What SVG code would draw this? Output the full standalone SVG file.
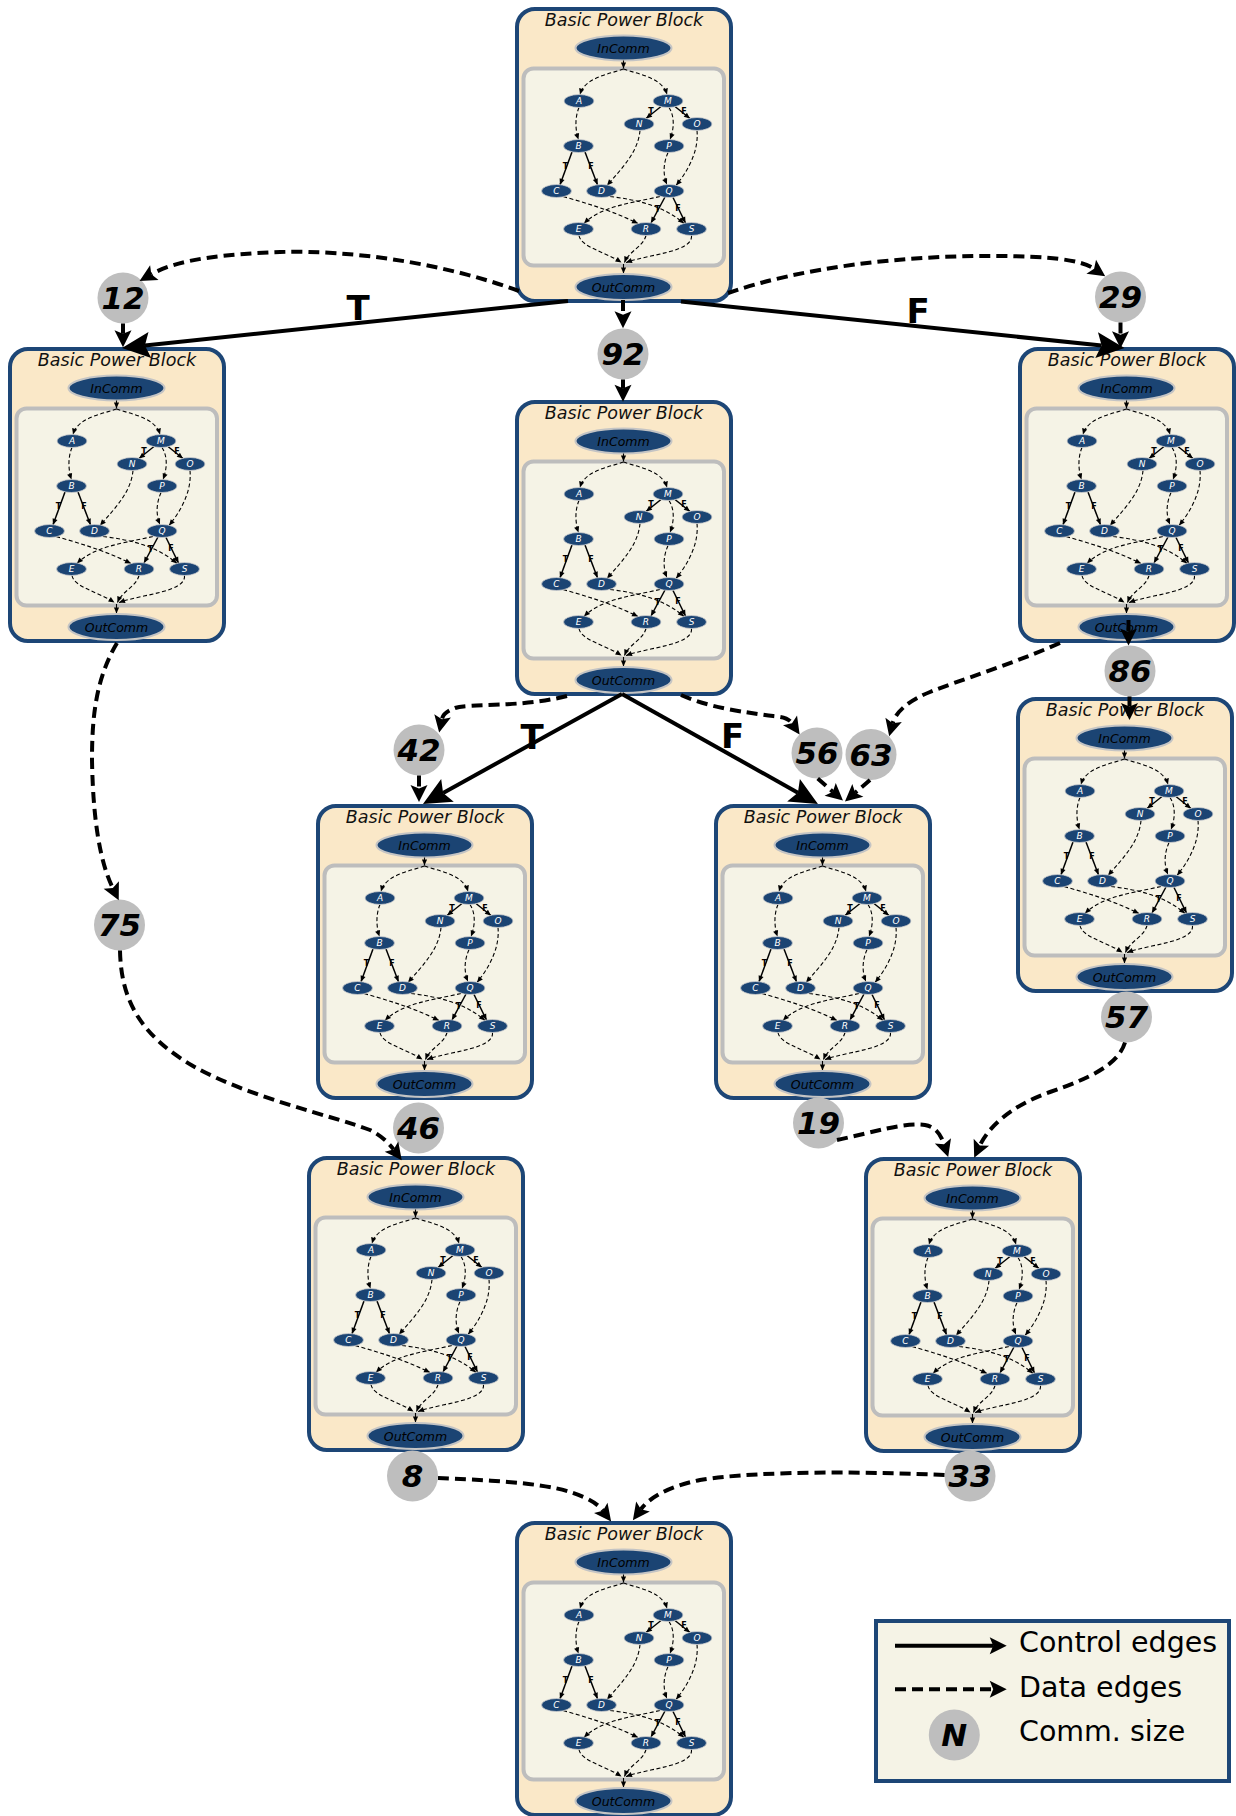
<svg xmlns="http://www.w3.org/2000/svg" xmlns:xlink="http://www.w3.org/1999/xlink" width="1236" height="1816" viewBox="0 0 1236 1816">
<style>
.blk{fill:#fae8c8;stroke:#1d4676;stroke-width:4}
.ttl{font-family:"DejaVu Sans",sans-serif;font-style:italic;font-size:17.5px;text-anchor:middle;fill:#111}
.io{fill:#1b4473;stroke:#c4c4c4;stroke-width:2}
.iot{font-family:"DejaVu Sans",sans-serif;font-style:italic;font-size:12.5px;text-anchor:middle;fill:#000}
.inner{fill:#f5f3e6;stroke:#bdbdbd;stroke-width:4}
.n{fill:#1b4473;stroke:#d0d0d0;stroke-width:0.8}
.nt{font-family:"DejaVu Sans",sans-serif;font-style:italic;font-size:9px;text-anchor:middle;fill:#fff}
.ie{fill:none;stroke:#000;stroke-width:1.1;stroke-dasharray:4 2.5;marker-end:url(#sa)}
.is{fill:none;stroke:#000;stroke-width:1.5;marker-end:url(#sa)}
.il{font-family:"DejaVu Sans",sans-serif;font-weight:bold;font-size:8px;text-anchor:middle;fill:#000}
.cs{fill:#bebebe}
.cn{font-family:"DejaVu Sans",sans-serif;font-style:italic;font-weight:bold;font-size:31px;text-anchor:middle;fill:#000}
.ctl{fill:none;stroke:#000;stroke-width:4;marker-end:url(#ca)}
.dat{fill:none;stroke:#000;stroke-width:4;stroke-dasharray:11 6;marker-end:url(#da)}
.lgc{fill:none;stroke:#000;stroke-width:4;marker-end:url(#da)}
.tf{font-family:"DejaVu Sans",sans-serif;font-weight:bold;font-size:34px;text-anchor:middle;fill:#000}
.leg{fill:#f5f3e6;stroke:#1d4676;stroke-width:4}
.lt{font-family:"DejaVu Sans",sans-serif;font-size:28.5px;fill:#000}
</style>
<defs>
<marker id="sa" markerUnits="userSpaceOnUse" orient="auto" overflow="visible" markerWidth="10" markerHeight="10"><path d="M-6,-2.6 L0,0 L-6,2.6 z" fill="#000"/></marker>
<marker id="ca" markerUnits="userSpaceOnUse" orient="auto" overflow="visible" markerWidth="40" markerHeight="40"><path d="M-5,-13 L23,0 L-5,13 L0,0 z" fill="#000"/></marker>
<marker id="da" markerUnits="userSpaceOnUse" orient="auto" overflow="visible" markerWidth="30" markerHeight="30"><path d="M-3.5,-8.5 L13.5,0 L-3.5,8.5 L0,0 z" fill="#000"/></marker>
<g id="bpb">
<rect class="blk" x="2" y="2" width="214" height="292" rx="18"/>
<text class="ttl" x="109" y="18.5">Basic Power Block</text>
<ellipse class="io" cx="108.5" cy="41" rx="48" ry="12.5"/>
<text class="iot" x="108.5" y="45.5">InComm</text>
<rect class="inner" x="8.5" y="61.5" width="200.5" height="197" rx="10"/>
<path class="ie" d="M108.5,53.5 L108.5,61.5"/>
<path class="ie" d="M108.5,62 C95,67 70,70 65,87.5"/>
<path class="ie" d="M108.5,62 C122,67 147,70 152,87.5"/>
<path class="ie" d="M64,100.5 C60,110 60,122 63.5,132.5"/>
<path class="is" d="M57,145 L45,177.8"/>
<path class="is" d="M70,145 L82.5,177.8"/>
<path class="is" d="M146,99.5 L131,111.5"/>
<path class="is" d="M160,99.5 L175,111.5"/>
<path class="ie" d="M154,100.5 C160,110 159,122 155,132.5"/>
<path class="ie" d="M125,123.5 C123,145 108,160 92,178.5"/>
<path class="ie" d="M182,123.5 C184,145 172,165 161,178.5"/>
<path class="ie" d="M153,145.5 C148,157 148,168 152,177.5"/>
<path class="ie" d="M48,189.5 C75,197 100,205 123,216.5"/>
<path class="ie" d="M95,189.5 C125,193 150,200 169,216.5"/>
<path class="ie" d="M145,189.5 C115,196 85,200 69,216.5"/>
<path class="is" d="M150,190 L136,216"/>
<path class="is" d="M158,190.5 L170.5,216"/>
<path class="ie" d="M64,228.5 C66,240 90,245 106.5,255.5"/>
<path class="ie" d="M131,228.5 C128,240 114,244 109.5,255.5"/>
<path class="ie" d="M176.5,228.5 C178,245 135,247 111,255.5"/>
<path class="ie" d="M108.5,257 L108.5,266.5"/>
<text class="il" x="50.5" y="162">T</text>
<text class="il" x="76" y="162">F</text>
<text class="il" x="136" y="107">T</text>
<text class="il" x="169" y="107">F</text>
<text class="il" x="142.5" y="204.5">T</text>
<text class="il" x="163" y="204">F</text>
<ellipse class="n" cx="64" cy="94" rx="15" ry="6.5"/><text class="nt" x="64" y="97.2">A</text>
<ellipse class="n" cx="153" cy="94" rx="15" ry="6.5"/><text class="nt" x="153" y="97.2">M</text>
<ellipse class="n" cx="124" cy="117" rx="15" ry="6.5"/><text class="nt" x="124" y="120.2">N</text>
<ellipse class="n" cx="182" cy="117" rx="15" ry="6.5"/><text class="nt" x="182" y="120.2">O</text>
<ellipse class="n" cx="63.5" cy="139" rx="15" ry="6.5"/><text class="nt" x="63.5" y="142.2">B</text>
<ellipse class="n" cx="154" cy="139" rx="15" ry="6.5"/><text class="nt" x="154" y="142.2">P</text>
<ellipse class="n" cx="41.5" cy="184" rx="15" ry="6.5"/><text class="nt" x="41.5" y="187.2">C</text>
<ellipse class="n" cx="86.5" cy="184" rx="15" ry="6.5"/><text class="nt" x="86.5" y="187.2">D</text>
<ellipse class="n" cx="154" cy="184" rx="15" ry="6.5"/><text class="nt" x="154" y="187.2">Q</text>
<ellipse class="n" cx="63.5" cy="222" rx="15" ry="6.5"/><text class="nt" x="63.5" y="225.2">E</text>
<ellipse class="n" cx="131" cy="222" rx="15" ry="6.5"/><text class="nt" x="131" y="225.2">R</text>
<ellipse class="n" cx="176.5" cy="222" rx="15" ry="6.5"/><text class="nt" x="176.5" y="225.2">S</text>
<ellipse class="io" cx="108.5" cy="280" rx="48" ry="13"/>
<text class="iot" x="108.5" y="284.5">OutComm</text>
</g>
</defs>
<rect x="0" y="0" width="1236" height="1816" fill="#fff"/>
<g id="block1" transform="translate(515,7)"><use href="#bpb"/></g>
<g id="block2" transform="translate(8,347)"><use href="#bpb"/></g>
<g id="block3" transform="translate(515,400)"><use href="#bpb"/></g>
<g id="block4" transform="translate(1018,347)"><use href="#bpb"/></g>
<g id="block5" transform="translate(1016,697)"><use href="#bpb"/></g>
<g id="block6" transform="translate(316,804)"><use href="#bpb"/></g>
<g id="block7" transform="translate(714,804)"><use href="#bpb"/></g>
<g id="block8" transform="translate(307,1156)"><use href="#bpb"/></g>
<g id="block9" transform="translate(864,1157)"><use href="#bpb"/></g>
<g id="block10" transform="translate(515,1521)"><use href="#bpb"/></g>
<g id="comm12"><circle class="cs" cx="123" cy="298" r="25.5"/><text class="cn" x="123" y="309">12</text></g>
<g id="comm92"><circle class="cs" cx="623" cy="354" r="25.5"/><text class="cn" x="623" y="365">92</text></g>
<g id="comm29"><circle class="cs" cx="1120.5" cy="297" r="25.5"/><text class="cn" x="1120.5" y="308">29</text></g>
<g id="comm42"><circle class="cs" cx="419" cy="750" r="25.5"/><text class="cn" x="419" y="761">42</text></g>
<g id="comm56"><circle class="cs" cx="817" cy="753" r="25.5"/><text class="cn" x="817" y="764">56</text></g>
<g id="comm63"><circle class="cs" cx="871" cy="754.5" r="25.5"/><text class="cn" x="871" y="765.5">63</text></g>
<g id="comm86"><circle class="cs" cx="1130" cy="671" r="25.5"/><text class="cn" x="1130" y="682">86</text></g>
<g id="comm75"><circle class="cs" cx="119.5" cy="925" r="25.5"/><text class="cn" x="119.5" y="936">75</text></g>
<g id="comm46"><circle class="cs" cx="418.5" cy="1128" r="25.5"/><text class="cn" x="418.5" y="1139">46</text></g>
<g id="comm19"><circle class="cs" cx="818.5" cy="1123" r="25.5"/><text class="cn" x="818.5" y="1134">19</text></g>
<g id="comm57"><circle class="cs" cx="1126.5" cy="1017" r="25.5"/><text class="cn" x="1126.5" y="1028">57</text></g>
<g id="comm8"><circle class="cs" cx="412.5" cy="1476" r="25.5"/><text class="cn" x="412.5" y="1487">8</text></g>
<g id="comm33"><circle class="cs" cx="970" cy="1476" r="25.5"/><text class="cn" x="970" y="1487">33</text></g>
<g id="connectors">
<path class="ctl" d="M568,301 L144.9,345.5"/>
<path class="ctl" d="M681,301.5 L1101.6,345.6"/>
<path class="ctl" d="M622,694 L443.1,792.9"/>
<path class="ctl" d="M622,694 L797.9,792.7"/>
<text class="tf" x="358" y="320">T</text>
<text class="tf" x="918" y="323">F</text>
<text class="tf" x="532" y="749">T</text>
<text class="tf" x="732.5" y="748">F</text>
<path class="dat" d="M519,291 C440,262 350,250 280,252 C225,254 178,259 151.3,274.3"/>
<path class="dat" d="M123,323.5 L123,333.8"/>
<path class="dat" d="M623,300 L623,314.8"/>
<path class="dat" d="M623,379.5 L623,388.2"/>
<path class="dat" d="M728,293 C800,268 900,255 1000,256 C1045,256.5 1080,259 1094.1,268.7"/>
<path class="dat" d="M1120.5,322.5 L1120.5,334.8"/>
<path class="dat" d="M567,696 C520,708 470,703 455,708 C447,711 443,714 441.9,719.3"/>
<path class="dat" d="M419,775.5 L419,788.5"/>
<path class="dat" d="M681,695 C710,708 745,712 765,715 C778,717 787,716 792,723.3"/>
<path class="dat" d="M817.7,778.5 L832.8,791.7"/>
<path class="dat" d="M1060,643 C1010,665 960,680 930,692 C910,700 896,711 892.7,723.3"/>
<path class="dat" d="M870,780 L855.2,792.7"/>
<path class="dat" d="M1128.5,620 L1128.5,632"/>
<path class="dat" d="M1129.5,696.5 L1129.5,706.5"/>
<path class="dat" d="M117,643 C95,680 92,720 92,760 C93,820 100,862 112.8,888.1"/>
<path class="dat" d="M120,950.5 C121,1000 140,1035 193,1066 C250,1098 330,1115 370,1130 C380,1135 388,1142 393.6,1149.4"/>
<path class="dat" d="M837,1140 C870,1133 905,1122 925,1125 C936,1127 941,1135 944,1144.2"/>
<path class="dat" d="M1125,1042.5 C1118,1065 1090,1078 1050,1092 C1010,1106 988,1128 979.9,1145.4"/>
<path class="dat" d="M438,1478 C480,1480 540,1482 570,1492 C588,1498 597,1503 602.9,1510.7"/>
<path class="dat" d="M944.5,1475 C880,1472 760,1470 700,1480 C670,1486 650,1497 640.9,1509.3"/>
</g>
<g id="legend">
<rect class="leg" x="876" y="1621" width="353" height="160"/>
<path class="lgc" d="M895,1645.7 L993.2,1645.7"/>
<path class="dat" d="M895,1689.3 L993.2,1689.3"/>
<circle class="cs" cx="954.3" cy="1735" r="25.5"/>
<text class="cn" x="954.3" y="1746">N</text>
<text class="lt" x="1019" y="1651.5">Control edges</text>
<text class="lt" x="1019" y="1696.5">Data edges</text>
<text class="lt" x="1019" y="1740.5">Comm. size</text>
</g>
</svg>
